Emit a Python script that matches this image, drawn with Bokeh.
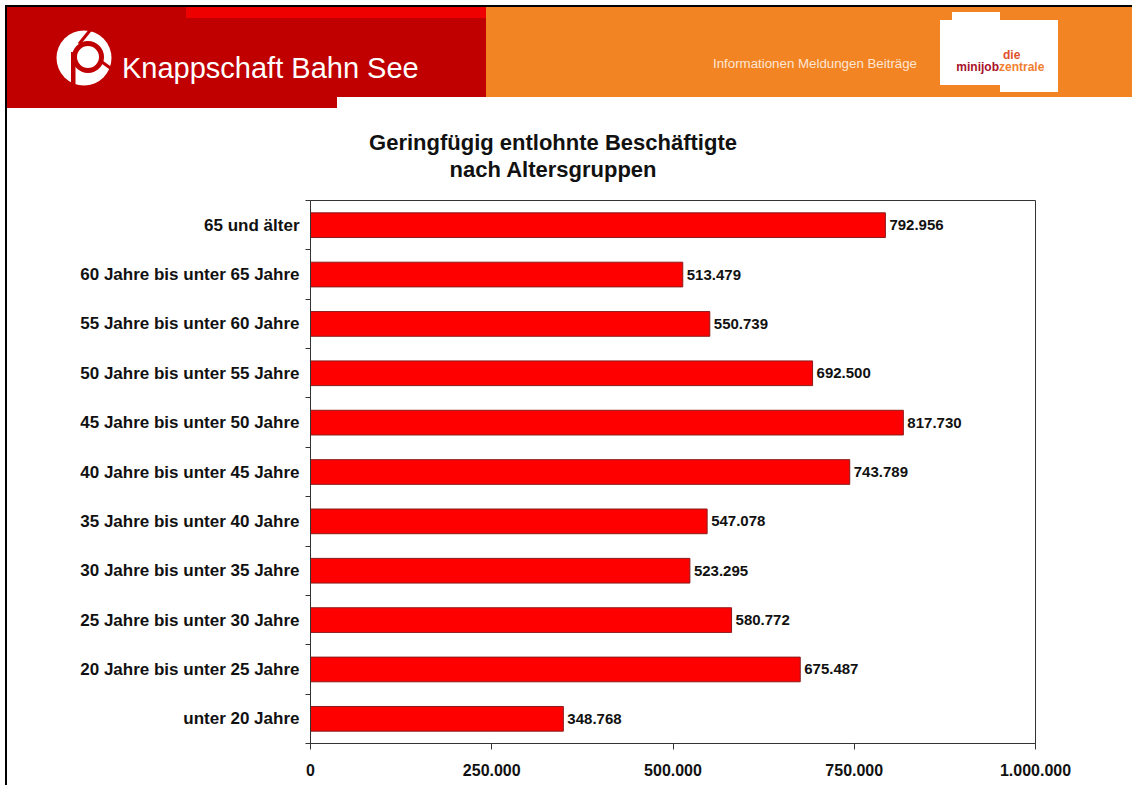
from bokeh.plotting import figure
from bokeh.models import Range1d, FixedTicker, CustomJSTickFormatter, ColumnDataSource, Div
from bokeh.layouts import column
from bokeh.core.properties import value
from bokeh.embed import file_html
from bokeh.resources import INLINE

# ---------------- data ----------------
categories = [
    "unter 20 Jahre",
    "20 Jahre bis unter 25 Jahre",
    "25 Jahre bis unter 30 Jahre",
    "30 Jahre bis unter 35 Jahre",
    "35 Jahre bis unter 40 Jahre",
    "40 Jahre bis unter 45 Jahre",
    "45 Jahre bis unter 50 Jahre",
    "50 Jahre bis unter 55 Jahre",
    "55 Jahre bis unter 60 Jahre",
    "60 Jahre bis unter 65 Jahre",
    "65 und älter",
]
values = [348768, 675487, 580772, 523295, 547078, 743789, 817730, 692500, 550739, 513479, 792956]
x_ticks = [0, 250000, 500000, 750000, 1000000]
x_tick_labels = ["0", "250.000", "500.000", "750.000", "1.000.000"]
title_lines = ["Geringfügig entlohnte Beschäftigte", "nach Altersgruppen"]
brand = "Knappschaft Bahn See"
slogan = "Informationen Meldungen Beiträge"

FONT = "Liberation Sans"
DARK_RED = "#C00000"
ORANGE = "#F28423"

# ---------------- header (inline SVG, viewBox in page pixels) ----------------
header_svg = f"""
<svg xmlns="http://www.w3.org/2000/svg" width="1125" height="183" viewBox="7 7 1125 183"
     style="display:block" font-family="{FONT}">
  <rect x="7" y="7" width="479" height="90" fill="{DARK_RED}"/>
  <rect x="7" y="96" width="330" height="12" fill="{DARK_RED}"/>
  <rect x="186" y="7" width="300" height="11" fill="#EE0000"/>
  <rect x="486" y="7" width="646" height="90" fill="{ORANGE}"/>
  <polygon points="940,20 952,20 952,12 1000,12 1000,20 1058,20 1058,92 1000,92 1000,85 940,85" fill="#FFFFFF"/>
  <text x="1003" y="59" font-size="12" font-weight="bold" fill="#E0502A">die</text>
  <text x="999" y="71" font-size="12" font-weight="bold" fill="#A8102A" text-anchor="end">minijob</text>
  <text x="999" y="71" font-size="12" font-weight="bold" fill="#F08030">zentrale</text>
  <text x="713" y="67.5" font-size="13.3" fill="#FDE6D6">{slogan}</text>
  <circle cx="84" cy="58" r="27.5" fill="#FFFFFF"/>
  <circle cx="88" cy="57" r="13.5" fill="#FFFFFF" stroke="{DARK_RED}" stroke-width="5"/>
  <rect x="71" y="52" width="4.5" height="34" fill="{DARK_RED}"/>
  <line x1="79" y1="44" x2="92" y2="28" stroke="{DARK_RED}" stroke-width="3"/>
  <line x1="102" y1="62" x2="113" y2="70" stroke="{DARK_RED}" stroke-width="3"/>
  <text x="122" y="78" font-size="29" fill="#FFFFFF">{brand}</text>
  <text x="553" y="150" font-size="22" font-weight="bold" fill="#111111" text-anchor="middle">{title_lines[0]}</text>
  <text x="553" y="177" font-size="22" font-weight="bold" fill="#111111" text-anchor="middle">{title_lines[1]}</text>
</svg>
"""
header = Div(text=header_svg, width=1125, height=183, margin=(0, 0, 0, 0))

# ---------------- chart ----------------
src = ColumnDataSource(dict(
    y=[i + 0.5 for i in range(len(categories))],
    value=values,
    label=[f"{v:,}".replace(",", ".") for v in values],
))

p = figure(width=1125, height=595, x_range=Range1d(0, 1000000), y_range=Range1d(0, len(categories)),
           toolbar_location=None, output_backend="svg",
           min_border_left=303, min_border_right=97, min_border_top=10, min_border_bottom=42,
           outline_line_color="#333333")
p.grid.visible = False

p.hbar(y="y", left=0, right="value", height=0.5, source=src,
       fill_color="#FF0000", line_color="#8B1A1A", line_width=1)
p.text(x="value", y="y", text="label", source=src, x_offset=4,
       text_align="left", text_baseline="middle", text_font=value(FONT),
       text_font_style="bold", text_font_size="15px", text_color="#111111")

ya = p.yaxis[0]
ya.ticker = FixedTicker(ticks=[i + 0.5 for i in range(len(categories))],
                        minor_ticks=list(range(len(categories) + 1)))
ya.formatter = CustomJSTickFormatter(args=dict(labels=categories),
                                     code="return labels[Math.round(tick - 0.5)];")
ya.major_tick_out = 0
ya.major_tick_in = 0
ya.minor_tick_out = 5
ya.minor_tick_in = 0
ya.minor_tick_line_color = "#333333"
ya.axis_line_color = "#333333"
ya.major_label_standoff = 6
ya.major_label_text_font = FONT
ya.major_label_text_font_style = "bold"
ya.major_label_text_font_size = "17px"
ya.major_label_text_color = "#111111"

xa = p.xaxis[0]
xa.ticker = FixedTicker(ticks=x_ticks, minor_ticks=[])
xa.major_label_overrides = dict(zip(x_ticks, x_tick_labels))
xa.major_tick_out = 6
xa.major_tick_in = 0
xa.minor_tick_out = 0
xa.minor_tick_in = 0
xa.major_tick_line_color = "#333333"
xa.axis_line_color = "#333333"
xa.major_label_standoff = 14
xa.major_label_text_font = FONT
xa.major_label_text_font_style = "bold"
xa.major_label_text_font_size = "16px"
xa.major_label_text_color = "#111111"

layout = column(header, p, spacing=0,
                styles={"margin-left": "5px", "margin-top": "5px",
                        "border-left": "2px solid #000000", "border-top": "2px solid #000000"})

open("out.html", "w").write(file_html(layout, INLINE))
